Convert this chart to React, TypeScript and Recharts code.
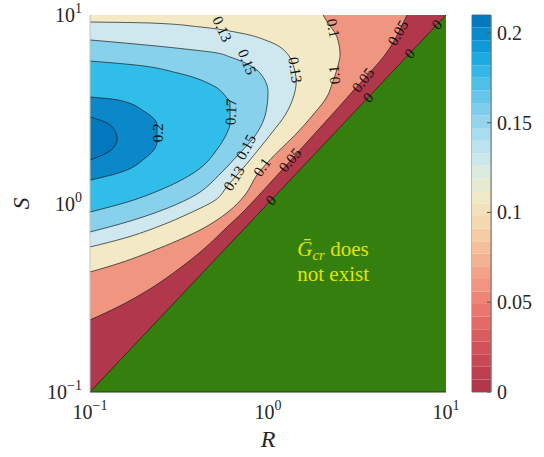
import React from 'react';
import {
  ComposedChart,
  Area,
  Line,
  XAxis,
  YAxis,
  CartesianGrid,
  ReferenceDot,
  ReferenceArea,
  BarChart,
  Bar,
} from 'recharts';

// r = null marks where the contour line is broken for its label
type Pt = { r: number | null; s: number };

const SERIF = '"Liberation Serif", "DejaVu Serif", serif';
const INK = '#262626';

// contour traces, listed from the top of the plot (large S) down
const ZERO: Pt[] = [
  { s: 10, r: 10 }, { s: 9.39, r: 9.39 }, { s: 8.9, r: null }, { s: 8.44, r: 8.44 },
  { s: 6.59, r: 6.59 }, { s: 6.25, r: null }, { s: 5.92, r: 5.92 },
  { s: 3.85, r: 3.85 }, { s: 3.65, r: null }, { s: 3.46, r: 3.46 },
  { s: 1.1, r: 1.1 }, { s: 1.04, r: null }, { s: 0.986, r: 0.986 },
  { s: 0.1, r: 0.1 },
];
const C005: Pt[] = [
  { s: 10, r: 6.04 }, { s: 9.52, r: 5.89 }, { s: 8.03, r: null }, { s: 6.85, r: 4.91 },
  { s: 6.14, r: 4.54 }, { s: 5.23, r: 3.94 }, { s: 4.52, r: null }, { s: 3.95, r: 3.0 },
  { s: 3.54, r: 2.71 }, { s: 2.52, r: 1.96 }, { s: 1.92, r: 1.51 }, { s: 1.7, r: null },
  { s: 1.47, r: 1.17 }, { s: 1.08, r: 0.868 }, { s: 0.901, r: 0.724 }, { s: 0.741, r: 0.581 },
  { s: 0.581, r: 0.443 }, { s: 0.455, r: 0.321 }, { s: 0.352, r: 0.217 }, { s: 0.286, r: 0.147 },
  { s: 0.241, r: 0.1 },
];
const C010: Pt[] = [
  { s: 10, r: 2.04 }, { s: 9.4, r: 2.12 }, { s: 8.53, r: null }, { s: 7.64, r: 2.44 },
  { s: 6.14, r: 2.54 }, { s: 5.36, r: 2.47 }, { s: 4.81, r: null }, { s: 4.31, r: 2.29 },
  { s: 3.76, r: 2.17 }, { s: 2.95, r: 1.79 }, { s: 2.31, r: 1.42 }, { s: 1.81, r: 1.09 },
  { s: 1.56, r: null }, { s: 1.42, r: 0.868 }, { s: 1.11, r: 0.743 }, { s: 0.901, r: 0.596 },
  { s: 0.723, r: 0.415 }, { s: 0.581, r: 0.247 }, { s: 0.483, r: 0.147 }, { s: 0.433, r: 0.1 },
];
const C013: Pt[] = [
  { s: 9.18, r: 0.1 }, { s: 9.07, r: 0.217 }, { s: 8.64, r: 0.415 }, { s: 8.43, r: null },
  { s: 8.03, r: 0.696 }, { s: 7.19, r: 1.03 }, { s: 6.14, r: 1.3 }, { s: 5.77, r: 1.35 },
  { s: 5.11, r: null }, { s: 4.41, r: 1.44 }, { s: 3.76, r: 1.4 }, { s: 2.95, r: 1.25 },
  { s: 2.37, r: 1.05 }, { s: 1.92, r: 0.879 }, { s: 1.54, r: 0.724 }, { s: 1.36, r: null },
  { s: 1.25, r: 0.596 }, { s: 1.04, r: 0.504 }, { s: 0.891, r: 0.365 }, { s: 0.76, r: 0.247 },
  { s: 0.656, r: 0.157 }, { s: 0.588, r: 0.1 },
];
const C015: Pt[] = [
  { s: 7.37, r: 0.1 }, { s: 7.02, r: 0.179 }, { s: 6.6, r: 0.342 }, { s: 6.29, r: 0.517 },
  { s: 5.99, r: 0.612 }, { s: 5.63, r: null }, { s: 4.92, r: 0.902 }, { s: 3.9, r: 1.0 },
  { s: 3.06, r: 0.975 }, { s: 2.37, r: 0.868 }, { s: 1.99, r: null }, { s: 1.74, r: 0.653 },
  { s: 1.47, r: 0.552 }, { s: 1.07, r: 0.365 }, { s: 0.912, r: 0.247 }, { s: 0.807, r: 0.168 },
  { s: 0.706, r: 0.1 },
];
const C017: Pt[] = [
  { s: 5.7, r: 0.1 }, { s: 5.43, r: 0.179 }, { s: 4.92, r: 0.312 }, { s: 4.25, r: 0.485 },
  { s: 3.63, r: 0.588 }, { s: 3.45, r: 0.612 }, { s: 3.06, r: null }, { s: 2.67, r: 0.612 },
  { s: 2.31, r: 0.581 }, { s: 1.97, r: 0.524 }, { s: 1.47, r: 0.389 }, { s: 1.21, r: 0.264 },
  { s: 1.02, r: 0.163 }, { s: 0.901, r: 0.1 },
];
const C020: Pt[] = [
  { s: 3.67, r: 0.1 }, { s: 3.54, r: 0.144 }, { s: 3.06, r: 0.204 }, { s: 2.61, r: 0.238 },
  { s: 2.37, r: null }, { s: 2.12, r: 0.238 }, { s: 1.74, r: 0.204 }, { s: 1.45, r: 0.144 },
  { s: 1.33, r: 0.1 },
];
const C021: Pt[] = [
  { s: 2.88, r: 0.1 }, { s: 2.71, r: 0.121 }, { s: 2.43, r: 0.138 }, { s: 2.2, r: 0.142 },
  { s: 1.97, r: 0.135 }, { s: 1.81, r: 0.118 }, { s: 1.7, r: 0.1 },
];

// painted outermost first
const BANDS = [
  { key: 'z', data: ZERO, fill: '#b1374b', curve: 'linear' },
  { key: 'c005', data: C005, fill: '#f0957f', curve: 'monotone' },
  { key: 'c010', data: C010, fill: '#f3e9c5', curve: 'monotone' },
  { key: 'c013', data: C013, fill: '#cfe8f0', curve: 'monotone' },
  { key: 'c015', data: C015, fill: '#88d1ec', curve: 'monotone' },
  { key: 'c017', data: C017, fill: '#30bde9', curve: 'monotone' },
  { key: 'c020', data: C020, fill: '#0a88c9', curve: 'monotone' },
  { key: 'c021', data: C021, fill: '#0478bf', curve: 'monotone' },
];

// clabel places these with the slope taken in linear data units, hence the odd angles
const CONTOUR_LABELS = [
  { r: 0.552, s: 8.43, text: '0.13', angle: 65 },
  { r: 0.762, s: 5.63, text: '0.15', angle: 68 },
  { r: 1.42, s: 5.11, text: '0.13', angle: 82 },
  { r: 2.32, s: 8.53, text: '0.1', angle: 78 },
  { r: 2.36, s: 4.81, text: '0.1', angle: -95 },
  { r: 0.62, s: 3.06, text: '0.17', angle: -88 },
  { r: 0.241, s: 2.37, text: '0.2', angle: -90 },
  { r: 0.752, s: 1.99, text: '0.15', angle: -62 },
  { r: 0.644, s: 1.36, text: '0.13', angle: -58 },
  { r: 0.925, s: 1.56, text: '0.1', angle: -55 },
  { r: 1.33, s: 1.7, text: '0.05', angle: -50 },
  { r: 3.42, s: 4.52, text: '0.05', angle: -52 },
  { r: 5.38, s: 8.03, text: '0.05', angle: -60 },
  { r: 1.04, s: 1.04, text: '0', angle: -47 },
  { r: 3.65, s: 3.65, text: '0', angle: -47 },
  { r: 6.25, s: 6.25, text: '0', angle: -47 },
  { r: 8.9, s: 8.9, text: '0', angle: -47 },
];

const AXIS_TICKS = [0.1, 1, 10];
const AXIS_EXPONENTS = ['\u22121', '0', '1'];

const CBAR_TICKS = [0, 0.05, 0.1, 0.15, 0.2];
const CBAR_STEP = 0.007;
const CBAR_COLORS = [
  '#b2374b', '#bd3f4f', '#c84854', '#d25159', '#db5c5f', '#e36866', '#ea766e', '#ee8577',
  '#f19481', '#f3a38a', '#f5b193', '#f6bf9c', '#f6cca6', '#f4d8b0', '#f2e2bb', '#efe9c6',
  '#e6ead2', '#daeadf', '#cce7ea', '#bce2ef', '#a9dcef', '#94d5ee', '#7ecdec', '#66c6ea',
  '#4ebfe9', '#34b7e7', '#1eaae1', '#0e9ad6', '#0a8acb', '#0479bf',
];

const cbarRow: Record<string, number | string> = { name: 'cbar' };
CBAR_COLORS.forEach((_, i) => {
  cbarRow[`c${i}`] = CBAR_STEP;
});

const serifText = { fontFamily: SERIF };

function XPowTick(props: any) {
  const { x, y, index } = props;
  return (
    <text x={x} y={y + 27} textAnchor="middle" fill={INK} fontSize={20} style={serifText}>
      10
      <tspan dy={-9} fontSize={14}>{AXIS_EXPONENTS[index]}</tspan>
    </text>
  );
}

function YPowTick(props: any) {
  const { x, y, index } = props;
  return (
    <text x={x - 8} y={y + 7} textAnchor="end" fill={INK} fontSize={20} style={serifText}>
      10
      <tspan dy={-9} fontSize={14}>{AXIS_EXPONENTS[index]}</tspan>
    </text>
  );
}

function CbarTick(props: any) {
  const { x, y, payload } = props;
  return (
    <text x={x} y={y + 7} textAnchor="start" fill={INK} fontSize={20} style={serifText}>
      {payload.value}
    </text>
  );
}

export default function App() {
  return (
    <div style={{ position: 'absolute', left: 0, top: 0, width: 544, height: 457, background: '#fff' }}>
      <div style={{ position: 'absolute', left: 0, top: 0 }}>
        <ComposedChart
          layout="vertical"
          width={544}
          height={457}
          margin={{ top: 15, right: 98, bottom: 0, left: 0 }}
        >
          <CartesianGrid horizontal={false} vertical={false} fill="#357f0e" fillOpacity={1} />
          <XAxis
            type="number"
            scale="log"
            domain={[0.1, 10]}
            ticks={AXIS_TICKS}
            interval={0}
            allowDataOverflow
            height={65}
            tickLine={false}
            tickSize={0}
            tickMargin={0}
            axisLine={{ stroke: '#1f3f10' }}
            tick={<XPowTick />}
            label={{
              content: (p: any) => (
                <text
                  x={p.viewBox.x + p.viewBox.width / 2}
                  y={p.viewBox.y + 55}
                  textAnchor="middle"
                  fill={INK}
                  fontSize={24}
                  fontStyle="italic"
                  style={serifText}
                >
                  R
                </text>
              ),
            }}
          />
          <YAxis
            type="number"
            dataKey="s"
            scale="log"
            reversed
            domain={[0.1, 10]}
            ticks={AXIS_TICKS}
            interval={0}
            allowDataOverflow
            width={90}
            tickLine={false}
            tickSize={0}
            tickMargin={0}
            axisLine={{ stroke: '#c4c4c4' }}
            tick={<YPowTick />}
            label={{
              content: (p: any) => (
                <text
                  x={29}
                  y={p.viewBox.y + p.viewBox.height / 2}
                  transform={`rotate(-90 29 ${p.viewBox.y + p.viewBox.height / 2})`}
                  textAnchor="middle"
                  fill={INK}
                  fontSize={24}
                  fontStyle="italic"
                  style={serifText}
                >
                  S
                </text>
              ),
            }}
          />
          <XAxis
            xAxisId="top"
            orientation="top"
            type="number"
            scale="log"
            domain={[0.1, 10]}
            allowDataOverflow
            height={0}
            tick={false}
            tickLine={false}
            axisLine={{ stroke: '#c4c4c4' }}
          />
          <YAxis
            yAxisId="right"
            orientation="right"
            type="number"
            scale="log"
            reversed
            domain={[0.1, 10]}
            allowDataOverflow
            width={0}
            tick={false}
            tickLine={false}
            axisLine={{ stroke: '#1f3f10' }}
          />
          {BANDS.map((b) => (
            <Area
              key={`fill-${b.key}`}
              data={b.data}
              dataKey="r"
              type={b.curve as any}
              baseValue="dataMin"
              connectNulls
              fill={b.fill}
              fillOpacity={1}
              stroke="none"
              dot={false}
              activeDot={false}
              isAnimationActive={false}
            />
          ))}
          {BANDS.map((b) => (
            <Line
              key={`line-${b.key}`}
              data={b.data}
              dataKey="r"
              type={b.curve as any}
              connectNulls={false}
              stroke="#1a1a1a"
              strokeWidth={0.7}
              dot={false}
              activeDot={false}
              isAnimationActive={false}
            />
          ))}
          {CONTOUR_LABELS.map((l, i) => (
            <ReferenceDot
              key={i}
              x={l.r}
              y={l.s}
              ifOverflow="visible"
              shape={(p: any) => (
                <text
                  x={p.cx}
                  y={p.cy}
                  transform={`rotate(${l.angle} ${p.cx} ${p.cy})`}
                  textAnchor="middle"
                  dominantBaseline="central"
                  fontSize={15}
                  fill="#111"
                  style={serifText}
                >
                  {l.text}
                </text>
              )}
            />
          ))}
          <ReferenceDot
            x={1.46}
            y={0.527}
            ifOverflow="visible"
            shape={(p: any) => (
              <text x={p.cx} y={p.cy} fill="#e4e400" fontSize={21} style={serifText}>
                <tspan fontStyle="italic">{'\u1E20'}</tspan>
                <tspan fontStyle="italic" fontSize={15} dy={4}>cr</tspan>
                <tspan dy={-4}> does</tspan>
                <tspan x={p.cx} dy={25}>not exist</tspan>
              </text>
            )}
          />
        </ComposedChart>
      </div>
      <div style={{ position: 'absolute', left: 0, top: 0 }}>
        <BarChart
          width={544}
          height={457}
          data={[cbarRow]}
          margin={{ top: 15, right: 3, bottom: 65, left: 472 }}
          barCategoryGap={0}
          barGap={0}
        >
          <XAxis dataKey="name" hide />
          <YAxis
            orientation="right"
            type="number"
            domain={[0, 0.21]}
            ticks={CBAR_TICKS}
            interval={0}
            allowDataOverflow
            width={50}
            tickSize={-4}
            tickMargin={10}
            tickLine={{ stroke: '#555' }}
            axisLine={{ stroke: '#777' }}
            tick={<CbarTick />}
          />
          {CBAR_COLORS.map((c, i) => (
            <Bar key={c + i} dataKey={`c${i}`} stackId="cb" fill={c} isAnimationActive={false} />
          ))}
          <ReferenceArea y1={0} y2={0.21} fill="none" stroke="#777" ifOverflow="visible" />
        </BarChart>
      </div>
    </div>
  );
}
